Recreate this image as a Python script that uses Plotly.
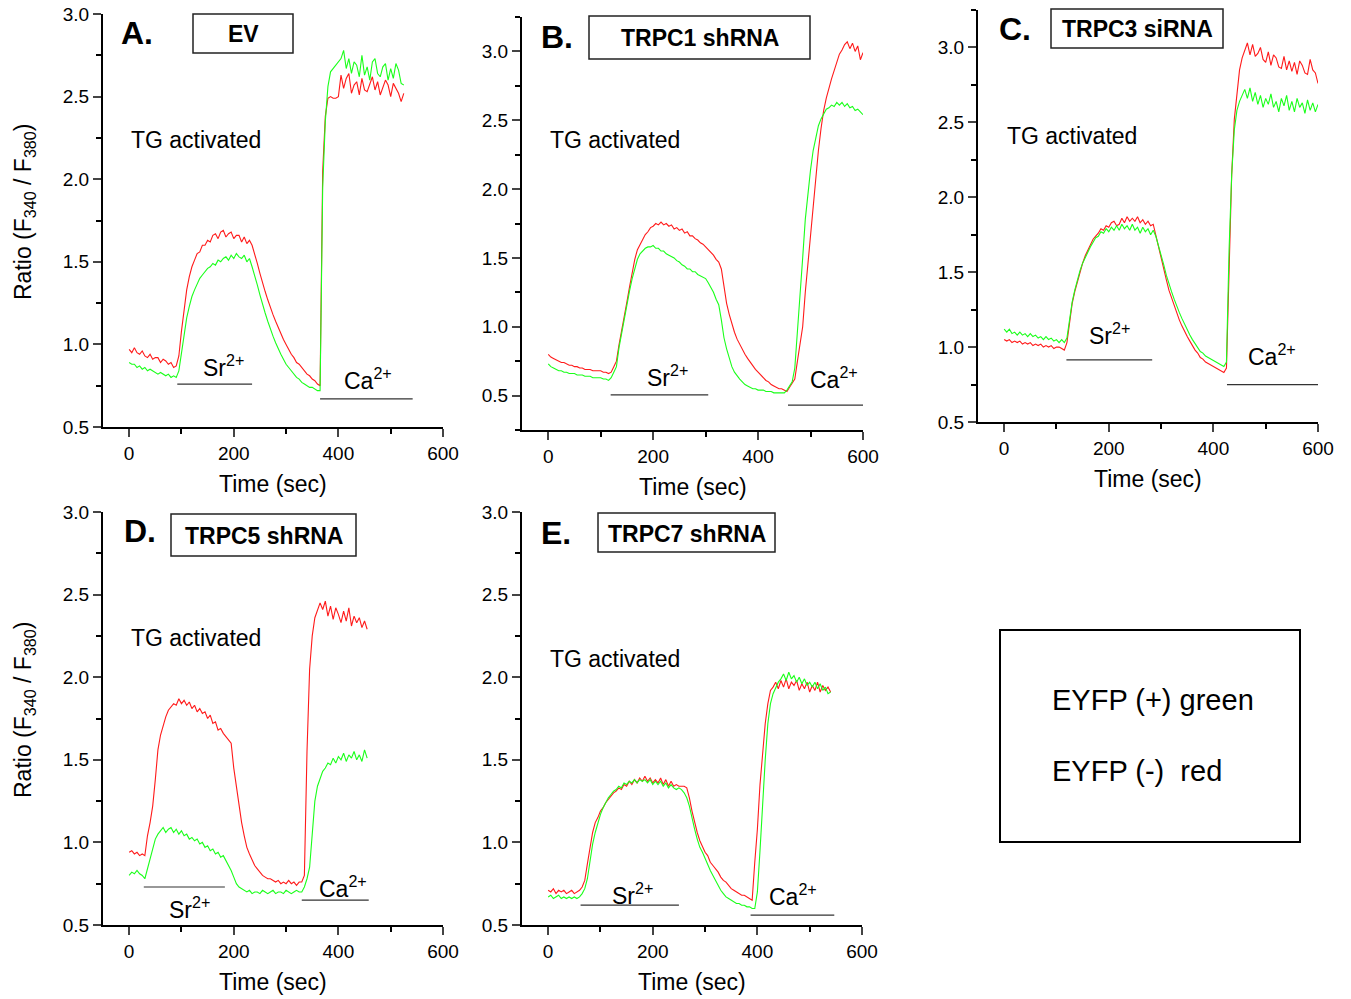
import numpy as np
import plotly.graph_objects as go

W, H = 1351, 999

# ---- data (ratio F340/F380, 5 s sampling) ----
A_red = [0.97, 0.95, 0.98, 0.95, 0.94, 0.96, 0.93, 0.92, 0.94, 0.91, 0.92, 0.92, 0.89, 0.91, 0.90, 0.88, 0.89, 0.86, 0.87,
         0.93, 1.08, 1.22, 1.33, 1.41, 1.47, 1.51, 1.55, 1.56, 1.60, 1.60, 1.63, 1.62, 1.66, 1.67, 1.64, 1.68, 1.69, 1.65,
         1.67, 1.68, 1.64, 1.66, 1.66, 1.62, 1.65, 1.61, 1.63, 1.60, 1.55, 1.49, 1.43, 1.37, 1.32, 1.27, 1.22, 1.18, 1.14,
         1.10, 1.07, 1.03, 1.00, 0.97, 0.94, 0.92, 0.89, 0.88, 0.86, 0.84, 0.82, 0.81, 0.79, 0.78, 0.76, 0.75,
         2.05, 2.38, 2.49, 2.50, 2.49, 2.49, 2.50, 2.63, 2.55, 2.61, 2.64, 2.52, 2.57, 2.59, 2.51, 2.61, 2.54, 2.53, 2.58,
         2.62, 2.54, 2.59, 2.51, 2.55, 2.60, 2.57, 2.50, 2.58, 2.55, 2.52, 2.47, 2.52]
A_green = [0.89, 0.88, 0.88, 0.86, 0.87, 0.85, 0.86, 0.84, 0.85, 0.84, 0.83, 0.82, 0.83, 0.82, 0.81, 0.82, 0.80, 0.81, 0.80,
           0.84, 0.95, 1.07, 1.16, 1.23, 1.29, 1.33, 1.37, 1.40, 1.42, 1.44, 1.46, 1.47, 1.49, 1.48, 1.51, 1.50, 1.52, 1.53,
           1.51, 1.54, 1.52, 1.55, 1.53, 1.52, 1.54, 1.50, 1.52, 1.47, 1.42, 1.36, 1.30, 1.24, 1.19, 1.14, 1.09, 1.05, 1.01,
           0.97, 0.94, 0.91, 0.88, 0.86, 0.84, 0.82, 0.80, 0.79, 0.77, 0.76, 0.75, 0.74, 0.74, 0.73, 0.72, 0.72,
           1.95, 2.35, 2.56, 2.65, 2.67, 2.69, 2.71, 2.73, 2.78, 2.67, 2.73, 2.64, 2.71, 2.69, 2.62, 2.75, 2.63, 2.68, 2.60,
           2.71, 2.73, 2.64, 2.62, 2.68, 2.70, 2.60, 2.67, 2.61, 2.70, 2.66, 2.58, 2.57]

B_red = [0.80, 0.78, 0.77, 0.76, 0.75, 0.74, 0.74, 0.73, 0.72, 0.72, 0.71, 0.71, 0.70, 0.70, 0.69, 0.69, 0.69, 0.68, 0.68,
         0.68, 0.68, 0.67, 0.67, 0.66, 0.67, 0.71, 0.75, 0.87, 0.97, 1.06, 1.18, 1.29, 1.40, 1.49, 1.56, 1.60, 1.64, 1.67,
         1.69, 1.72, 1.73, 1.75, 1.74, 1.76, 1.74, 1.75, 1.73, 1.74, 1.71, 1.72, 1.70, 1.71, 1.68, 1.69, 1.66, 1.66, 1.64,
         1.63, 1.61, 1.60, 1.58, 1.56, 1.54, 1.52, 1.49, 1.47, 1.42, 1.28, 1.17, 1.09, 1.02, 0.96, 0.91, 0.87, 0.83, 0.80,
         0.77, 0.74, 0.71, 0.69, 0.67, 0.65, 0.63, 0.61, 0.60, 0.58, 0.57, 0.56, 0.55, 0.55, 0.54, 0.53, 0.56, 0.59, 0.62,
         0.75, 0.87, 1.00, 1.25, 1.45, 1.68, 1.90, 2.10, 2.28, 2.44, 2.57, 2.66, 2.74, 2.80, 2.86, 2.93, 2.98, 3.01, 3.05,
         3.07, 3.02, 3.06, 3.00, 3.04, 2.94, 2.99, 2.96]
B_green = [0.73, 0.71, 0.70, 0.69, 0.68, 0.68, 0.67, 0.67, 0.66, 0.66, 0.66, 0.65, 0.65, 0.65, 0.64, 0.64, 0.64, 0.63, 0.63,
           0.63, 0.63, 0.62, 0.62, 0.61, 0.63, 0.67, 0.71, 0.85, 0.96, 1.05, 1.16, 1.26, 1.35, 1.43, 1.49, 1.53, 1.55, 1.57,
           1.58, 1.58, 1.59, 1.57, 1.57, 1.55, 1.55, 1.53, 1.52, 1.51, 1.50, 1.48, 1.47, 1.45, 1.44, 1.42, 1.42, 1.40, 1.40,
           1.38, 1.37, 1.36, 1.35, 1.32, 1.29, 1.25, 1.20, 1.16, 1.05, 0.92, 0.84, 0.77, 0.71, 0.67, 0.64, 0.62, 0.60, 0.58,
           0.57, 0.56, 0.55, 0.55, 0.54, 0.54, 0.54, 0.53, 0.53, 0.53, 0.52, 0.52, 0.52, 0.52, 0.52, 0.54, 0.57, 0.60, 0.70,
           0.95, 1.20, 1.50, 1.78, 1.98, 2.14, 2.28, 2.38, 2.46, 2.51, 2.55, 2.58, 2.59, 2.61, 2.60, 2.63, 2.61, 2.63, 2.60,
           2.62, 2.59, 2.60, 2.57, 2.58, 2.56, 2.54]

C_red = [1.05, 1.04, 1.05, 1.03, 1.04, 1.03, 1.04, 1.02, 1.03, 1.02, 1.03, 1.01, 1.02, 1.01, 1.02, 1.00, 1.01, 1.00, 1.01,
         0.99, 1.00, 1.00, 0.99, 0.98, 1.03, 1.18, 1.29, 1.37, 1.44, 1.51, 1.56, 1.61, 1.65, 1.68, 1.72, 1.74, 1.76, 1.79,
         1.78, 1.81, 1.80, 1.83, 1.84, 1.81, 1.82, 1.86, 1.83, 1.87, 1.84, 1.86, 1.84, 1.87, 1.83, 1.85, 1.82, 1.84, 1.81,
         1.82, 1.75, 1.68, 1.60, 1.52, 1.45, 1.38, 1.33, 1.27, 1.22, 1.18, 1.14, 1.10, 1.07, 1.04, 1.01, 0.98, 0.96, 0.93,
         0.92, 0.90, 0.89, 0.88, 0.87, 0.86, 0.85, 0.84, 0.83, 0.86, 1.60, 2.15, 2.52, 2.70, 2.85, 2.93, 2.98, 3.03, 2.95,
         3.02, 2.94, 2.96, 3.00, 2.92, 2.90, 2.97, 2.88, 2.95, 2.93, 2.87, 2.86, 2.94, 2.85, 2.91, 2.84, 2.90, 2.82, 2.91,
         2.88, 2.83, 2.82, 2.92, 2.85, 2.83, 2.76]
C_green = [1.12, 1.10, 1.12, 1.09, 1.10, 1.08, 1.10, 1.08, 1.09, 1.07, 1.09, 1.07, 1.08, 1.06, 1.07, 1.05, 1.07, 1.05, 1.06,
           1.04, 1.05, 1.03, 1.05, 1.03, 1.06, 1.20, 1.30, 1.38, 1.45, 1.51, 1.56, 1.60, 1.64, 1.67, 1.70, 1.73, 1.74, 1.77,
           1.76, 1.79, 1.77, 1.80, 1.78, 1.81, 1.78, 1.82, 1.79, 1.81, 1.78, 1.82, 1.78, 1.80, 1.76, 1.80, 1.77, 1.79, 1.75,
           1.78, 1.74, 1.68, 1.62, 1.55, 1.48, 1.42, 1.37, 1.32, 1.27, 1.23, 1.19, 1.15, 1.12, 1.08, 1.05, 1.02, 1.00, 0.97,
           0.96, 0.94, 0.93, 0.92, 0.91, 0.90, 0.89, 0.88, 0.87, 0.90, 1.65, 2.15, 2.45, 2.58, 2.64, 2.68, 2.72, 2.66, 2.73,
           2.64, 2.70, 2.62, 2.68, 2.60, 2.66, 2.62, 2.69, 2.60, 2.64, 2.57, 2.66, 2.61, 2.68, 2.58, 2.64, 2.57, 2.66, 2.60,
           2.63, 2.56, 2.65, 2.58, 2.63, 2.57, 2.62]

D_red = [0.94, 0.95, 0.93, 0.94, 0.92, 0.93, 0.92, 1.04, 1.12, 1.22, 1.38, 1.56, 1.65, 1.71, 1.76, 1.80, 1.82, 1.84, 1.83,
         1.87, 1.84, 1.86, 1.83, 1.85, 1.81, 1.83, 1.79, 1.81, 1.78, 1.79, 1.75, 1.77, 1.72, 1.73, 1.68, 1.69, 1.66, 1.64,
         1.62, 1.60, 1.45, 1.34, 1.22, 1.12, 1.04, 0.97, 0.93, 0.89, 0.86, 0.84, 0.82, 0.80, 0.79, 0.78, 0.78, 0.77, 0.76,
         0.77, 0.75, 0.76, 0.75, 0.77, 0.75, 0.76, 0.74, 0.76, 0.76, 0.80, 1.55, 2.05, 2.25, 2.36, 2.40, 2.45, 2.41, 2.46,
         2.37, 2.43, 2.35, 2.42, 2.38, 2.33, 2.40, 2.34, 2.42, 2.31, 2.37, 2.33, 2.36, 2.30, 2.34, 2.29]
D_green = [0.80, 0.82, 0.81, 0.83, 0.81, 0.80, 0.78, 0.84, 0.90, 0.96, 1.02, 1.05, 1.07, 1.09, 1.06, 1.08, 1.09, 1.06, 1.08,
           1.05, 1.07, 1.04, 1.05, 1.02, 1.03, 1.01, 1.02, 0.99, 1.00, 0.97, 0.98, 0.95, 0.96, 0.93, 0.94, 0.91, 0.92, 0.89,
           0.86, 0.83, 0.79, 0.75, 0.73, 0.72, 0.71, 0.70, 0.71, 0.69, 0.70, 0.70, 0.69, 0.71, 0.70, 0.69, 0.70, 0.71, 0.69,
           0.70, 0.70, 0.69, 0.71, 0.70, 0.69, 0.70, 0.71, 0.70, 0.70, 0.73, 0.78, 0.85, 1.05, 1.25, 1.34, 1.38, 1.43, 1.45,
           1.48, 1.47, 1.51, 1.48, 1.52, 1.50, 1.54, 1.49, 1.53, 1.51, 1.55, 1.50, 1.53, 1.49, 1.56, 1.51]

E_red = [0.71, 0.70, 0.72, 0.69, 0.71, 0.70, 0.71, 0.69, 0.70, 0.71, 0.69, 0.70, 0.71, 0.73, 0.77, 0.87, 0.97, 1.06, 1.12,
         1.15, 1.19, 1.21, 1.24, 1.26, 1.28, 1.30, 1.31, 1.33, 1.32, 1.35, 1.34, 1.37, 1.35, 1.38, 1.36, 1.39, 1.37, 1.40,
         1.37, 1.39, 1.36, 1.38, 1.36, 1.39, 1.35, 1.38, 1.34, 1.37, 1.34, 1.35, 1.34, 1.34, 1.34, 1.33, 1.27, 1.19, 1.12,
         1.06, 1.01, 0.97, 0.94, 0.92, 0.88, 0.86, 0.84, 0.82, 0.79, 0.77, 0.76, 0.74, 0.72, 0.71, 0.70, 0.69, 0.68, 0.68,
         0.67, 0.66, 0.65, 0.88, 1.08, 1.35, 1.52, 1.72, 1.84, 1.92, 1.94, 1.97, 1.93, 1.98, 1.94, 1.99, 1.93, 1.97, 1.95,
         1.98, 1.92, 1.96, 1.93, 1.97, 1.91, 1.95, 1.92, 1.97, 1.91, 1.95, 1.92, 1.94, 1.91]
E_green = [0.67, 0.68, 0.66, 0.67, 0.68, 0.66, 0.67, 0.66, 0.67, 0.66, 0.67, 0.66, 0.67, 0.69, 0.72, 0.78, 0.89, 0.99, 1.06,
           1.12, 1.17, 1.21, 1.24, 1.27, 1.29, 1.31, 1.32, 1.34, 1.33, 1.36, 1.35, 1.37, 1.36, 1.38, 1.36, 1.38, 1.37, 1.38,
           1.36, 1.38, 1.35, 1.37, 1.35, 1.37, 1.34, 1.36, 1.33, 1.35, 1.33, 1.32, 1.33, 1.32, 1.30, 1.27, 1.22, 1.14, 1.08,
           1.02, 0.97, 0.94, 0.90, 0.86, 0.83, 0.80, 0.77, 0.74, 0.71, 0.69, 0.67, 0.66, 0.65, 0.64, 0.63, 0.63, 0.62, 0.62,
           0.61, 0.61, 0.60, 0.60, 0.70, 0.95, 1.25, 1.50, 1.72, 1.84, 1.90, 1.94, 1.97, 1.99, 2.02, 1.98, 2.03, 1.99, 2.01,
           1.97, 2.00, 1.96, 1.99, 1.95, 1.97, 1.94, 1.97, 1.93, 1.96, 1.92, 1.94, 1.90, 1.91]

# perfusion bars: [start s, end s, ratio level]
A_sr, A_ca = [92, 235, 0.76], [365, 542, 0.67]
B_sr, B_ca = [119, 305, 0.505], [457, 600, 0.43]
C_sr, C_ca = [119, 283, 0.915], [426, 600, 0.75]
D_sr, D_ca = [28, 183, 0.73], [330, 458, 0.65]
E_sr, E_ca = [62, 250, 0.62], [387, 547, 0.56]

# label anchor (time, ratio) for Sr / Ca / "TG activated"
A_txt = dict(sr=(181, 0.87), ca=(457, 0.79), tg=(128, 2.24))
B_txt = dict(sr=(227, 0.64), ca=(544, 0.63), tg=(127, 2.36))
C_txt = dict(sr=(201, 1.09), ca=(512, 0.95), tg=(129, 2.41))
D_txt = dict(sr=(115, 0.60), ca=(409, 0.73), tg=(128, 2.24))
E_txt = dict(sr=(161, 0.69), ca=(469, 0.68), tg=(128, 2.11))

titles = ["EV", "TRPC1 shRNA", "TRPC3 siRNA", "TRPC5 shRNA", "TRPC7 shRNA"]
letters = ["A.", "B.", "C.", "D.", "E."]

RED = "#ff1a1a"
GREEN = "#1aff1a"
FONT = "Liberation Sans, Arial, sans-serif"


def px(x):
    return x / W


def py(y):
    return 1 - y / H


# pixel geometry of each panel: axis box (left, right, top, bottom), y range,
# letter centre, title box (x0, x1, y0, y1)
panels = [
    dict(red=A_red, green=A_green, sr=A_sr, ca=A_ca, txt=A_txt, box=(103, 443, 14, 427), yr=(0.5, 3.0),
         letter=(137, 33), tbox=(193, 293, 14, 53), ylab=(24, 212)),
    dict(red=B_red, green=B_green, sr=B_sr, ca=B_ca, txt=B_txt, box=(522, 863, 17, 430), yr=(0.25, 3.25),
         letter=(557, 37), tbox=(589, 810, 16, 59), ylab=None),
    dict(red=C_red, green=C_green, sr=C_sr, ca=C_ca, txt=C_txt, box=(978, 1318, 10, 422), yr=(0.5, 3.25),
         letter=(1015, 29), tbox=(1051, 1223, 9, 48), ylab=None),
    dict(red=D_red, green=D_green, sr=D_sr, ca=D_ca, txt=D_txt, box=(103, 443, 512, 925), yr=(0.5, 3.0),
         letter=(140, 531), tbox=(171, 356, 514, 556), ylab=(24, 710)),
    dict(red=E_red, green=E_green, sr=E_sr, ca=E_ca, txt=E_txt, box=(522, 862, 512, 925), yr=(0.5, 3.0),
         letter=(556, 533), tbox=(598, 775, 513, 552), ylab=None),
]

fig = go.Figure()
annotations = []
shapes = []
txtfont = dict(size=23, color="black", family=FONT)

for i, p in enumerate(panels):
    n = i + 1
    xa = "x" if n == 1 else f"x{n}"
    ya = "y" if n == 1 else f"y{n}"
    xkey = "xaxis" if n == 1 else f"xaxis{n}"
    ykey = "yaxis" if n == 1 else f"yaxis{n}"
    l, r, t, b = p["box"]

    for vals, col in ((p["red"], RED), (p["green"], GREEN)):
        tt = np.arange(len(vals)) * 5
        fig.add_trace(go.Scatter(x=tt, y=vals, mode="lines", line=dict(color=col, width=1.1),
                                 xaxis=xa, yaxis=ya, showlegend=False, hoverinfo="skip"))

    fig.update_layout({
        xkey: dict(domain=[px(l), px(r)], range=[-50, 600], anchor=ya, tickmode="array",
                   tickvals=[0, 200, 400, 600], ticks="outside", ticklen=8, tickwidth=2,
                   showline=True, linewidth=2, linecolor="black", showgrid=False, zeroline=False,
                   tickfont=dict(size=19, color="black", family=FONT),
                   minor=dict(tickvals=[100, 300, 500], ticks="outside", ticklen=5, tickwidth=2,
                              tickcolor="black")),
        ykey: dict(domain=[py(b), py(t)], range=list(p["yr"]), anchor=xa, dtick=0.5, tick0=0,
                   tickformat=".1f", ticks="outside", ticklen=8, tickwidth=2,
                   showline=True, linewidth=2, linecolor="black", showgrid=False, zeroline=False,
                   tickfont=dict(size=19, color="black", family=FONT),
                   minor=dict(dtick=0.25, tick0=0, ticks="outside", ticklen=5, tickwidth=2,
                              tickcolor="black")),
    })

    # Sr / Ca perfusion bars
    for bar in (p["sr"], p["ca"]):
        shapes.append(dict(type="line", xref=xa, yref=ya, x0=bar[0], x1=bar[1], y0=bar[2], y1=bar[2],
                           line=dict(color="#333333", width=1.2)))
    sx, sy = p["txt"]["sr"]
    cx, cy = p["txt"]["ca"]
    gx, gy = p["txt"]["tg"]
    annotations += [
        dict(x=sx, y=sy, xref=xa, yref=ya, text="Sr<sup>2+</sup>", showarrow=False, font=txtfont,
             xanchor="center", yanchor="middle"),
        dict(x=cx, y=cy, xref=xa, yref=ya, text="Ca<sup>2+</sup>", showarrow=False, font=txtfont,
             xanchor="center", yanchor="middle"),
        dict(x=gx, y=gy, xref=xa, yref=ya, text="TG activated", showarrow=False, font=txtfont,
             xanchor="center", yanchor="middle"),
        dict(x=0.5, y=py(b + 57), xref=f"{xa} domain", yref="paper", text="Time (sec)", showarrow=False,
             font=txtfont, xanchor="center", yanchor="middle"),
        dict(x=px(p["letter"][0]), y=py(p["letter"][1]), xref="paper", yref="paper",
             text=f"<b>{letters[i]}</b>", showarrow=False, xanchor="center", yanchor="middle",
             font=dict(size=32, color="black", family=FONT)),
    ]
    x0, x1, y0, y1 = p["tbox"]
    shapes.append(dict(type="rect", xref="paper", yref="paper", x0=px(x0), x1=px(x1), y0=py(y1), y1=py(y0),
                       line=dict(color="#222222", width=1.5)))
    annotations.append(dict(x=px((x0 + x1) / 2), y=py((y0 + y1) / 2 + 1), xref="paper", yref="paper",
                            text=f"<b>{titles[i]}</b>", showarrow=False, font=txtfont,
                            xanchor="center", yanchor="middle"))
    if p["ylab"]:
        annotations.append(dict(x=px(p["ylab"][0]), y=py(p["ylab"][1]), xref="paper", yref="paper",
                                text="Ratio (F<sub>340</sub> / F<sub>380</sub>)", textangle=-90,
                                showarrow=False, font=txtfont, xanchor="center", yanchor="middle"))

# legend box
shapes.append(dict(type="rect", xref="paper", yref="paper", x0=px(1000), x1=px(1300), y0=py(842), y1=py(630),
                   line=dict(color="black", width=2)))
annotations += [
    dict(x=px(1050), y=py(700), xref="paper", yref="paper", text="EYFP (+) green", xanchor="left",
         yanchor="middle", showarrow=False, font=dict(size=29, color="black", family=FONT)),
    dict(x=px(1050), y=py(771), xref="paper", yref="paper", text="EYFP (-)  red", xanchor="left",
         yanchor="middle", showarrow=False, font=dict(size=29, color="black", family=FONT)),
]

fig.update_layout(
    width=W, height=H,
    margin=dict(l=0, r=0, t=0, b=0, autoexpand=False),
    plot_bgcolor="white", paper_bgcolor="white",
    annotations=annotations, shapes=shapes,
    font=dict(family=FONT, color="black"),
)

# drop the default 8px page margin so the figure sits at the window's corner
fig.write_html("out.html", config={"displayModeBar": False},
               post_script="document.body.style.margin='0px';")
